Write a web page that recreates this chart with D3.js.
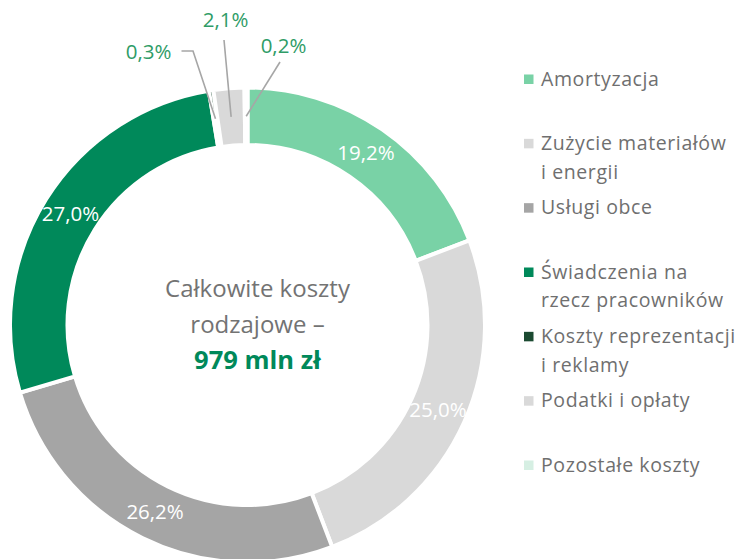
<!DOCTYPE html>
<html>
<head>
<meta charset="utf-8">
<script src="https://cdn.jsdelivr.net/npm/d3@7"></script>
<style>
  html, body { margin: 0; padding: 0; background: #ffffff; }
  svg { display: block; }
  text { font-family: "Open Sans", Lato, "DejaVu Sans", sans-serif; }
</style>
</head>
<body>
<svg id="chart" width="738" height="559"></svg>
<script>
// ---- data ----
const categories = [
  "Amortyzacja",
  "Zużycie materiałów i energii",
  "Usługi obce",
  "Świadczenia na rzecz pracowników",
  "Koszty reprezentacji i reklamy",
  "Podatki i opłaty",
  "Pozostałe koszty"
];
const values = [19.2, 25.0, 26.2, 27.0, 0.3, 2.1, 0.2];
const colors = ["#79d2a6", "#d9d9d9", "#a5a5a5", "#00895a", "#1b4a31", "#d9d9d9", "#d6efe3"];
const legendLines = [
  ["Amortyzacja"],
  ["Zużycie materiałów", "i energii"],
  ["Usługi obce"],
  ["Świadczenia na", "rzecz pracowników"],
  ["Koszty reprezentacji", "i reklamy"],
  ["Podatki i opłaty"],
  ["Pozostałe koszty"]
];
const centerLines = ["Całkowite koszty", "rodzajowe –"];
const centerTotal = "979 mln zł";
const outsideIdx = [4, 5, 6];

// ---- layout ----
const cx = 247.5, cy = 325, R = 237.5, r = 180;
const svg = d3.select("#chart");
const g = svg.append("g").attr("transform", `translate(${cx},${cy})`);

const pie = d3.pie().sort(null).value(d => d);
const arcs = pie(values);
const arc = d3.arc().innerRadius(r).outerRadius(R);

g.selectAll("path.slice")
  .data(arcs)
  .join("path")
  .attr("class", "slice")
  .attr("d", arc)
  .attr("fill", (d, i) => colors[i])
  .attr("stroke", "#ffffff")
  .attr("stroke-width", 4)
  .attr("stroke-linejoin", "miter");

const fmt = v => v.toFixed(1).replace(".", ",") + "%";

// inside labels
g.selectAll("text.inlab")
  .data(arcs.filter((d, i) => !outsideIdx.includes(i)))
  .join("text")
  .attr("class", "inlab")
  .attr("x", d => arc.centroid(d)[0])
  .attr("y", d => arc.centroid(d)[1])
  .attr("dy", "0.35em")
  .attr("text-anchor", "middle")
  .attr("fill", "#ffffff")
  .attr("font-size", 20.5)
  .text(d => fmt(d.value));

// outside labels with leader lines (label anchor offsets relative to centre)
const outsideLabelPos = { 4: [-99, -273], 5: [-22, -305], 6: [36, -279] };
const leaderPoints = {
  4: [[-66, -274], [-54.5, -274]],
  5: [[-23.5, -285]],
  6: [[32.5, -263]]
};
outsideIdx.forEach(i => {
  const c = arc.centroid(arcs[i]);
  const pts = leaderPoints[i].concat([c]);
  g.append("path")
    .attr("d", d3.line()(pts))
    .attr("fill", "none")
    .attr("stroke", "#a6a6a6")
    .attr("stroke-width", 1.6);
  g.append("text")
    .attr("x", outsideLabelPos[i][0])
    .attr("y", outsideLabelPos[i][1])
    .attr("dy", "0.35em")
    .attr("text-anchor", "middle")
    .attr("fill", "#2f9c67")
    .attr("font-size", 20.5)
    .text(fmt(values[i]));
});

// centre text
centerLines.forEach((t, k) => {
  g.append("text")
    .attr("x", 10).attr("y", -36 + k * 36)
    .attr("dy", "0.35em")
    .attr("text-anchor", "middle")
    .attr("fill", "#737373")
    .attr("font-size", 24)
    .text(t);
});
g.append("text")
  .attr("x", 10).attr("y", 35)
  .attr("dy", "0.35em")
  .attr("text-anchor", "middle")
  .attr("fill", "#00895a")
  .attr("font-size", 25.5)
  .attr("font-weight", "bold")
  .text(centerTotal);

// legend
const legendY = d3.scaleLinear().domain([0, categories.length - 1]).range([79, 465]);
const lg = svg.append("g");
categories.forEach((c, i) => {
  const y = legendY(i);
  lg.append("rect")
    .attr("x", 524).attr("y", y - 4.5)
    .attr("width", 9.5).attr("height", 9.5)
    .attr("fill", colors[i]);
  legendLines[i].forEach((line, k) => {
    lg.append("text")
      .attr("x", 541).attr("y", y + k * 28.5)
      .attr("dy", "0.35em")
      .attr("fill", "#6f6f6f")
      .attr("font-size", 19.5)
      .attr("letter-spacing", 0.6)
      .text(line);
  });
});
</script>
</body>
</html>
